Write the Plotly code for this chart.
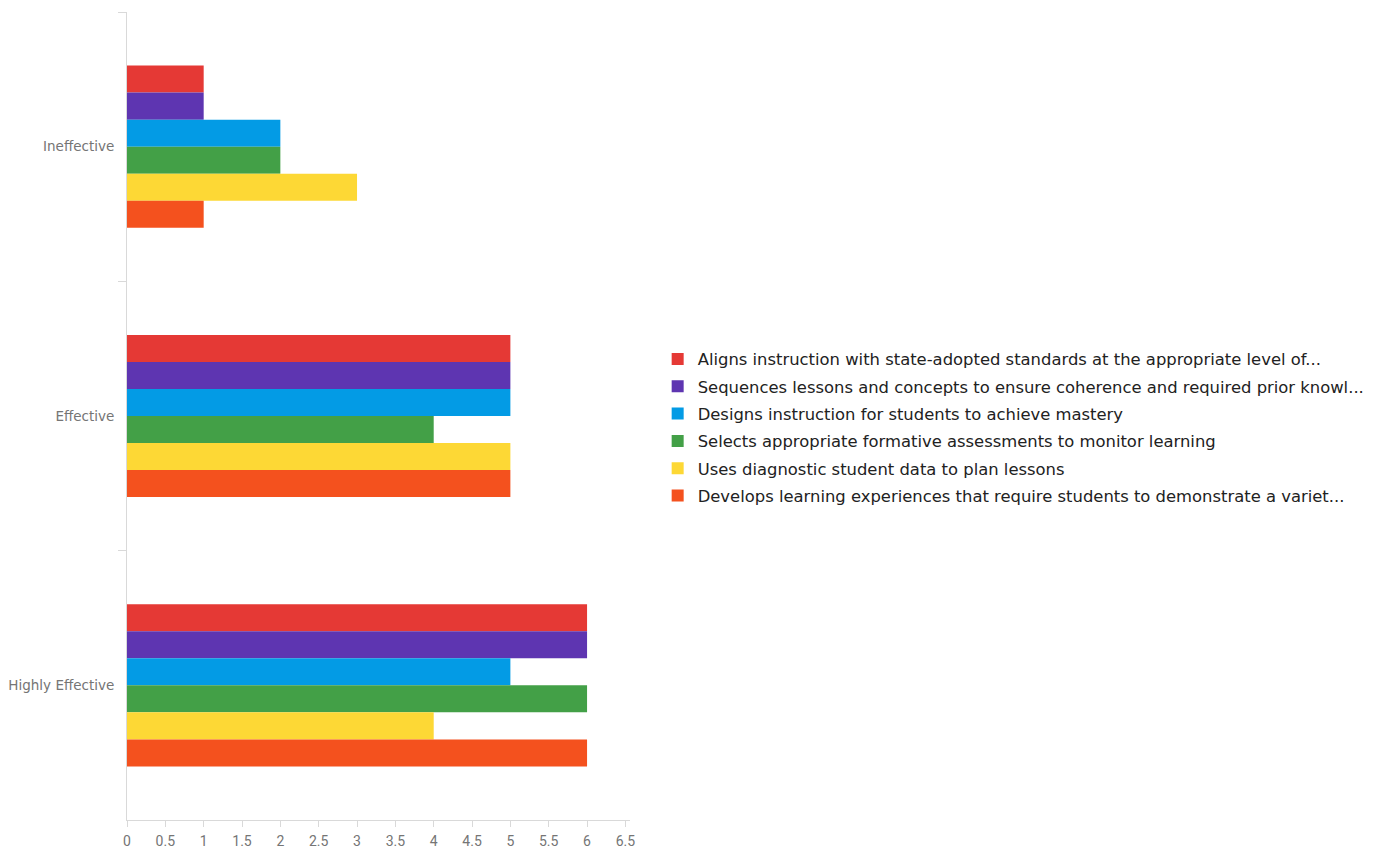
import plotly.graph_objects as go

categories = ["Ineffective", "Effective", "Highly Effective"]

series_names = [
    "Aligns instruction with state-adopted standards at the appropriate level of...",
    "Sequences lessons and concepts to ensure coherence and required prior knowl...",
    "Designs instruction for students to achieve mastery",
    "Selects appropriate formative assessments to monitor learning",
    "Uses diagnostic student data to plan lessons",
    "Develops learning experiences that require students to demonstrate a variet...",
]

aligns = [1, 5, 6]
sequences = [1, 5, 6]
designs = [2, 5, 5]
selects = [2, 4, 6]
uses = [3, 5, 4]
develops = [1, 5, 6]

series_values = [aligns, sequences, designs, selects, uses, develops]
colors = ["#E53935", "#5E35B1", "#039BE5", "#43A047", "#FDD835", "#F4511E"]

x_tick_vals = [0, 0.5, 1, 1.5, 2, 2.5, 3, 3.5, 4, 4.5, 5, 5.5, 6, 6.5]
x_tick_text = ["0", "0.5", "1", "1.5", "2", "2.5", "3", "3.5", "4", "4.5", "5", "5.5", "6", "6.5"]

fig = go.Figure()
for i, (name, vals, col) in enumerate(zip(series_names, series_values, colors)):
    fig.add_trace(go.Bar(
        y=categories, x=vals, name=name, orientation="h",
        legendgroup=f"g{i}",
        marker=dict(color=col, line=dict(width=0)),
    ))

fig.update_layout(
    width=1382, height=850,
    margin=dict(l=127, r=748, t=12, b=30),
    paper_bgcolor="white", plot_bgcolor="white",
    barmode="group", bargap=0.398, bargroupgap=0,
    font=dict(family="Roboto", color="#757575", size=13),
    legend=dict(
        traceorder="grouped",
        x=1.055, xanchor="left", y=0.486, yanchor="middle",
        font=dict(size=16.4, color="#222222", family="DejaVu Sans"),
        itemclick=False, tracegroupgap=3,
    ),
    showlegend=True,
)
fig.update_xaxes(
    range=[0, 6.56], tickvals=x_tick_vals, ticktext=x_tick_text, automargin=False,
    showgrid=False, zeroline=False, showline=True, linecolor="#d9d9d9", linewidth=1,
    ticks="outside", ticklen=6, tickcolor="#d9d9d9", tickfont=dict(size=14, color="#757575"),
    ticklabelstandoff=2,
)
fig.update_yaxes(
    type="category", categoryorder="array", categoryarray=categories, autorange="reversed",
    automargin=False,
    showgrid=False, zeroline=False, showline=True, linecolor="#d9d9d9", linewidth=1,
    ticks="outside", ticklen=8, tickcolor="#d9d9d9", tickson="boundaries",
    tickfont=dict(size=13.5, color="#757575", family="DejaVu Sans"), ticklabelstandoff=9,
)

fig.write_html("out.html")
